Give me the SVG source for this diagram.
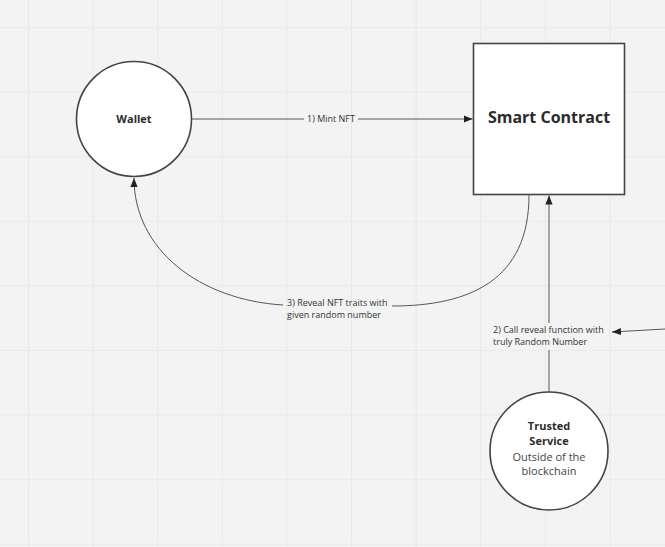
<svg xmlns="http://www.w3.org/2000/svg" width="665" height="547" viewBox="0 0 665 547">
<defs>
<pattern id="grid" x="28" y="27" width="64.6" height="64.6" patternUnits="userSpaceOnUse">
<path d="M0,0 H64.6 M0,0 V64.6" fill="none" stroke="#e3e3e3" stroke-width="1.2"/>
</pattern>
<marker id="arr" viewBox="0 0 10 10" refX="10" refY="5" markerWidth="9" markerHeight="9" markerUnits="userSpaceOnUse" orient="auto">
<path d="M0,1 L10,5 L0,9 Z" fill="#222"/>
</marker>
<style>
.node{fill:#ffffff;stroke:#444;stroke-width:1.6}
.conn{fill:none;stroke:#555;stroke-width:1}
.bold{font-family:"Open Sans","Liberation Sans",sans-serif;font-weight:bold;fill:#2b2b2b;text-anchor:middle}
.reg{font-family:"Open Sans","Liberation Sans",sans-serif;fill:#444;text-anchor:middle}
.lbl{font-family:"Open Sans","Liberation Sans",sans-serif;font-size:9px;fill:#333}
</style>
</defs>
<rect width="665" height="547" fill="#f3f3f3"/>
<rect width="665" height="547" fill="url(#grid)"/>
<g id="connectors">
<path class="conn" d="M192,119 H304 M358,119 H472.5" marker-end="url(#arr)"/>
<path class="conn" d="M529,195 C529,280 470,306 392,306 M283,305 C200,300 134,250 134,178" marker-end="url(#arr)"/>
<path class="conn" d="M549,392 V350 M549,323 V195.5" marker-end="url(#arr)"/>
<path class="conn" d="M665,329 L612,332" marker-end="url(#arr)"/>
<text class="lbl" x="331" y="121.5" text-anchor="middle">1) Mint NFT</text>
<text class="lbl" x="287" y="305.5">3) Reveal NFT traits with</text>
<text class="lbl" x="287" y="317.5">given random number</text>
<text class="lbl" x="493" y="333">2) Call reveal function with</text>
<text class="lbl" x="493" y="345">truly Random Number</text>
</g>
<g id="wallet">
<circle class="node" cx="134" cy="119" r="57.5"/>
<text class="bold" x="134" y="122.5" font-size="11">Wallet</text>
</g>
<g id="smart-contract">
<rect class="node" x="473.5" y="43.5" width="151" height="151"/>
<text class="bold" x="549" y="123" font-size="16">Smart Contract</text>
</g>
<g id="trusted-service">
<circle class="node" cx="549" cy="451" r="59"/>
<text class="bold" x="549" y="430" font-size="11">Trusted</text>
<text class="bold" x="549" y="445" font-size="11">Service</text>
<text class="reg" x="549" y="461" font-size="11">Outside of the</text>
<text class="reg" x="549" y="475" font-size="11">blockchain</text>
</g>
</svg>
